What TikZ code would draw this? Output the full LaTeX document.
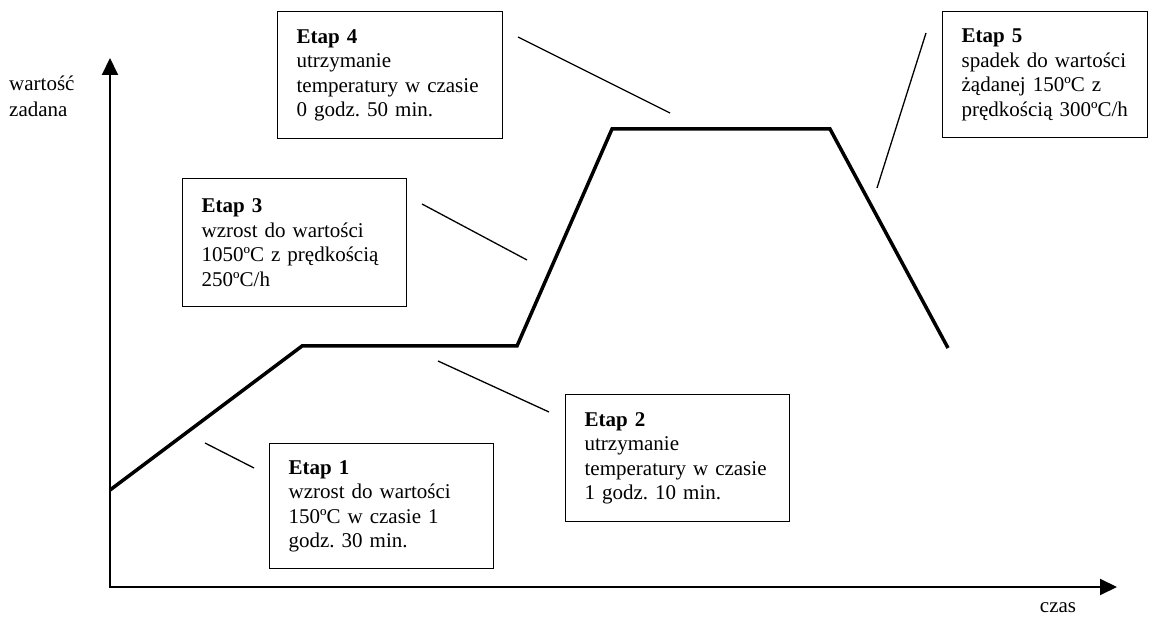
\documentclass[tikz,border=0pt]{standalone}
\usepackage{fontspec}
\setmainfont{Liberation Serif}
\usetikzlibrary{arrows.meta}
\frenchspacing
\tikzset{
  stagebox/.style={draw, line width=1.3pt, anchor=north west, inner xsep=19pt, inner ysep=0pt,
    align=left, font=\fontsize{21}{24.5}\selectfont},
  axisline/.style={line width=2pt, {Triangle[length=17pt,width=16pt]}-{Triangle[length=17pt,width=16pt]}},
  curveline/.style={line width=3.5pt, line join=miter},
  leader/.style={line width=1.3pt},
  axlabel/.style={font=\fontsize{21}{26}\selectfont, inner sep=0pt, align=left}
}
\begin{document}
\begin{tikzpicture}[x=1pt,y=-1pt]
\useasboundingbox (0,0) rectangle (1154,617);
% axes
\coordinate (ytop) at (110,58);
\coordinate (orig) at (110,587);
\coordinate (xend) at (1117,587);
\draw[axisline] (ytop) -- (orig) -- (xend);
\node[axlabel, anchor=base west] (ylab) at (9,117) {wartość\\zadana};
\node[axlabel, anchor=base] (xlab) at (1058,612) {czas};
% curve
\coordinate (c0) at (110,490);
\coordinate (c1) at (302,346);
\coordinate (c2) at (517,346);
\coordinate (c3) at (612,129);
\coordinate (c4) at (830,129);
\coordinate (c5) at (948,348);
\draw[curveline] (c0) -- (c1) -- (c2) -- (c3) -- (c4) -- (c5);
% boxes
\node[stagebox, text width=186pt, minimum height=125pt] (e1) at (269,443)
  {\textbf{Etap 1}\\wzrost do wartości\\150ºC w czasie 1\\godz. 30 min.};
\node[stagebox, text width=186pt, minimum height=127pt] (e2) at (565,394)
  {\textbf{Etap 2}\\utrzymanie\\temperatury w czasie\\1 godz. 10 min.};
\node[stagebox, text width=186pt, minimum height=128pt] (e3) at (182,178)
  {\textbf{Etap 3}\\wzrost do wartości\\1050ºC z prędkością\\250ºC/h};
\node[stagebox, text width=187pt, minimum height=127pt] (e4) at (277,11)
  {\textbf{Etap 4}\\utrzymanie\\temperatury w czasie\\0 godz. 50 min.};
\node[stagebox, text width=167pt, minimum height=126pt] (e5) at (942,11)
  {\textbf{Etap 5}\\spadek do wartości\\żądanej 150ºC z\\prędkością 300ºC/h};
% leaders
\coordinate (l1a) at (205,443); \coordinate (l1b) at (254,468);
\coordinate (l2a) at (438,361); \coordinate (l2b) at (549,412);
\coordinate (l3a) at (422,204); \coordinate (l3b) at (527,260);
\coordinate (l4a) at (518,37);  \coordinate (l4b) at (670,113);
\coordinate (l5a) at (926,33);  \coordinate (l5b) at (877,188);
\draw[leader] (l1a) -- (l1b);
\draw[leader] (l2a) -- (l2b);
\draw[leader] (l3a) -- (l3b);
\draw[leader] (l4a) -- (l4b);
\draw[leader] (l5a) -- (l5b);
\end{tikzpicture}
\end{document}
